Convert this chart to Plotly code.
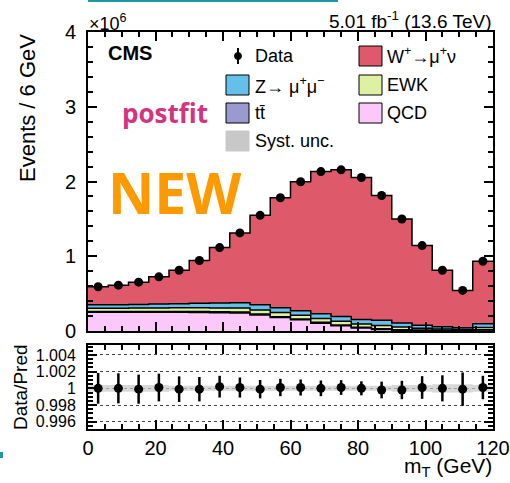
import plotly.graph_objects as go

# ---- binning: m_T in 6 GeV bins from 0 to 120 GeV ----
bin_width = 6
n_bins = 20
edges = [i * bin_width for i in range(n_bins + 1)]
centers = [e + bin_width / 2 for e in edges[:-1]]

# ---- observed events per bin (units of 1e6) ----
data = [0.592, 0.613, 0.653, 0.725, 0.813, 0.943, 1.116, 1.312, 1.547, 1.783,
        1.996, 2.133, 2.156, 2.053, 1.813, 1.499, 1.143, 0.813, 0.543, 0.933]

# ---- background processes, postfit (units of 1e6) ----
qcd = [0.250, 0.250, 0.250, 0.250, 0.250, 0.248, 0.245, 0.242, 0.215, 0.180,
       0.150, 0.105, 0.070, 0.040, 0.020, 0.008, 0.004, 0.002, 0.001, 0.001]
ttbar = [0.010, 0.010, 0.011, 0.011, 0.012, 0.012, 0.012, 0.012, 0.012, 0.012,
         0.011, 0.011, 0.010, 0.010, 0.010, 0.009, 0.009, 0.008, 0.008, 0.015]
ewk = [0.045, 0.045, 0.046, 0.047, 0.048, 0.050, 0.052, 0.053, 0.055, 0.055,
       0.050, 0.050, 0.050, 0.045, 0.045, 0.035, 0.025, 0.018, 0.012, 0.030]
zmumu = [0.045, 0.045, 0.048, 0.052, 0.055, 0.060, 0.066, 0.070, 0.068, 0.063,
         0.059, 0.064, 0.065, 0.060, 0.070, 0.055, 0.040, 0.030, 0.022, 0.050]

# ---- data / prediction ratio with uncertainties ----
ratio = [1.0000, 1.0000, 0.9999, 1.0001, 0.9999, 0.9999, 1.0002, 1.0001, 0.9999, 1.0001,
         1.0001, 1.0000, 1.0001, 1.0000, 0.9998, 0.9998, 1.0001, 1.0000, 0.9999, 1.0001]
ratio_err = [0.00184, 0.00180, 0.00174, 0.00166, 0.00154, 0.00146, 0.00130, 0.00120, 0.00110, 0.00104,
             0.00096, 0.00094, 0.00088, 0.00084, 0.00100, 0.00110, 0.00136, 0.00156, 0.00200, 0.00140]
syst = [0.0004, 0.0004, 0.0004, 0.0004, 0.0003, 0.0003, 0.0003, 0.0003, 0.0003, 0.0003,
        0.0003, 0.0003, 0.0003, 0.0003, 0.0003, 0.0004, 0.0004, 0.0005, 0.0005, 0.0004]

# signal W+ -> mu+ nu fills the prediction up to data / ratio
prediction = [d / r for d, r in zip(data, ratio)]
bkg_sum = [a + b + c + d for a, b, c, d in zip(qcd, ttbar, ewk, zmumu)]
wplus = [p - b for p, b in zip(prediction, bkg_sum)]

col_w = "#de5a6a"
col_z = "#64c0e8"
col_ewk = "#def0a2"
col_tt = "#9a9ad0"
col_qcd = "#fcc8fa"
col_syst = "#c8c8c8"

FONT = "Liberation Sans, Arial, Helvetica, sans-serif"
W, H = 510, 483


def px_x(x):
    return x / W


def px_y(y):
    return 1 - y / H


fig = go.Figure()

# stacked step histograms: QCD, ttbar, EWK, Z, W (bottom to top)
cum = [0.0] * n_bins
layers = [(qcd, col_qcd, "QCD"), (ttbar, col_tt, "tt"), (ewk, col_ewk, "EWK"),
          (zmumu, col_z, "Z"), (wplus, col_w, "W")]
for i, (vals, color, name) in enumerate(layers):
    cum = [c + v for c, v in zip(cum, vals)]
    fig.add_trace(go.Scatter(
        x=edges, y=cum + [cum[-1]], mode="lines", line_shape="hv",
        line=dict(color="black", width=1.5),
        fill="tozeroy" if i == 0 else "tonexty", fillcolor=color,
        name=name, showlegend=False, hoverinfo="skip",
        xaxis="x", yaxis="y"))

# data points
fig.add_trace(go.Scatter(
    x=centers, y=data, mode="markers",
    marker=dict(color="black", size=9),
    showlegend=False, xaxis="x", yaxis="y"))

# ratio panel: systematic band
band_lo = [1 - s for s in syst]
band_hi = [1 + s for s in syst]
fig.add_trace(go.Scatter(
    x=edges, y=band_lo + [band_lo[-1]], mode="lines", line_shape="hv",
    line=dict(width=0, color=col_syst), showlegend=False, hoverinfo="skip",
    xaxis="x2", yaxis="y2"))
fig.add_trace(go.Scatter(
    x=edges, y=band_hi + [band_hi[-1]], mode="lines", line_shape="hv",
    line=dict(width=0, color=col_syst), fill="tonexty",
    fillcolor="rgba(200,200,200,0.7)", showlegend=False, hoverinfo="skip",
    xaxis="x2", yaxis="y2"))

# ratio points
fig.add_trace(go.Scatter(
    x=centers, y=ratio, mode="markers",
    marker=dict(color="black", size=9),
    error_y=dict(type="data", array=ratio_err, color="black", thickness=2.5, width=0),
    showlegend=False, xaxis="x2", yaxis="y2"))

x_dom = [px_x(88), px_x(493)]
axis_common = dict(
    showline=True, linecolor="black", linewidth=2, mirror="allticks",
    ticks="inside", ticklen=9, tickwidth=1.5, tickcolor="black",
    zeroline=False, automargin=False,
)

fig.update_layout(
    width=W, height=H,
    margin=dict(l=0, r=0, t=0, b=0, autoexpand=False),
    paper_bgcolor="white", plot_bgcolor="white",
    font=dict(family=FONT, color="black"),
    showlegend=False,
    xaxis=dict(domain=x_dom, range=[0, 120], anchor="y", dtick=20,
               showticklabels=False, showgrid=False,
               minor=dict(dtick=5, ticks="inside", ticklen=5, tickcolor="black"),
               **axis_common),
    yaxis=dict(domain=[px_y(331), px_y(32)], range=[0, 4], anchor="x", dtick=1,
               showgrid=False, tickfont=dict(size=20), ticklabelstandoff=6,
               minor=dict(dtick=0.2, ticks="inside", ticklen=5, tickcolor="black"),
               **axis_common),
    xaxis2=dict(domain=x_dom, range=[0, 120], anchor="y2", dtick=20,
                showgrid=False, tickfont=dict(size=20), ticklabelstandoff=0,
                minor=dict(dtick=5, ticks="inside", ticklen=5, tickcolor="black"),
                **axis_common),
    yaxis2=dict(domain=[px_y(429), px_y(345)], range=[0.99513, 1.00519], anchor="x2",
                tickvals=[0.996, 0.998, 1.0, 1.002, 1.004],
                ticktext=["0.996", "0.998", "1", "1.002", "1.004"],
                tickfont=dict(size=16), ticklabelstandoff=7,
                showgrid=True, gridcolor="#444", gridwidth=1, griddash="dot",
                minor=dict(dtick=0.0005, ticks="inside", ticklen=5, tickcolor="black"),
                **axis_common),
)

ann = []


def text(x, y, s, size, xanchor="left", yanchor="middle", color="black",
         family=FONT, weight=None, angle=0):
    f = dict(size=size, color=color, family=family)
    if weight:
        f["weight"] = weight
    ann.append(dict(x=px_x(x), y=px_y(y), xref="paper", yref="paper", text=s,
                    showarrow=False, xanchor=xanchor, yanchor=yanchor,
                    font=f, textangle=angle))


# header texts
text(87, 36, "×10<sup>6</sup>", 18, yanchor="bottom")
text(494, 20, "5.01 fb<sup>-1</sup> (13.6 TeV)", 19, xanchor="right")
text(106, 53, "<b>CMS</b>", 20)
text(120, 113, "postfit", 26, color="#d6337f", family="Open Sans, sans-serif", weight=700)
text(106, 192, "NEW", 57, color="#ff9900", family="Open Sans, sans-serif", weight=700)

# axis titles
text(28, 32, "Events / 6 GeV", 22, xanchor="center", yanchor="top", angle=-90)
text(20, 387, "Data/Pred", 19, xanchor="center", angle=-90)
text(494, 482, "m<sub>T</sub> (GeV)", 21, xanchor="right", yanchor="bottom")

# legend
shapes = []


def box(x0, yc, color):
    shapes.append(dict(type="rect", xref="paper", yref="paper",
                       x0=px_x(x0), x1=px_x(x0 + 23), y0=px_y(yc + 10), y1=px_y(yc - 10),
                       fillcolor=color, line=dict(color="black" if color != col_syst else col_syst, width=1)))


row = [56, 85, 113, 141]
# Data entry: marker with a short vertical error line
shapes.append(dict(type="line", xref="paper", yref="paper",
                   x0=px_x(238), x1=px_x(238), y0=px_y(row[0] - 8), y1=px_y(row[0] + 8),
                   line=dict(color="black", width=2)))
shapes.append(dict(type="circle", xref="paper", yref="paper",
                   x0=px_x(234.5), x1=px_x(241.5), y0=px_y(row[0] + 3.5), y1=px_y(row[0] - 3.5),
                   fillcolor="black", line=dict(color="black", width=1)))
text(253, row[0], "Data", 18)
box(226, row[1], col_z)
text(253, row[1], "Z→ μ<sup>+</sup>μ<sup>−</sup>", 18)
box(226, row[2], col_tt)
text(253, row[2], "tt\u0304", 18)
box(226, row[3], col_syst)
text(253, row[3], "Syst. unc.", 18)
box(359, row[0], col_w)
text(385, row[0], "W<sup>+</sup>→μ<sup>+</sup>ν", 18)
box(359, row[1], col_ewk)
text(385, row[1], "EWK", 18)
box(359, row[2], col_qcd)
text(385, row[2], "QCD", 18)

# thin teal page strokes along the top and bottom-left edges
shapes.append(dict(type="rect", xref="paper", yref="paper",
                   x0=px_x(88), x1=px_x(338), y0=px_y(2), y1=1,
                   fillcolor="#1a9aa0", line=dict(width=0)))
shapes.append(dict(type="rect", xref="paper", yref="paper",
                   x0=0, x1=px_x(3), y0=px_y(458), y1=px_y(452),
                   fillcolor="#1a9aa0", line=dict(width=0)))

fig.update_layout(annotations=ann, shapes=shapes)

fig.write_html("out.html")
